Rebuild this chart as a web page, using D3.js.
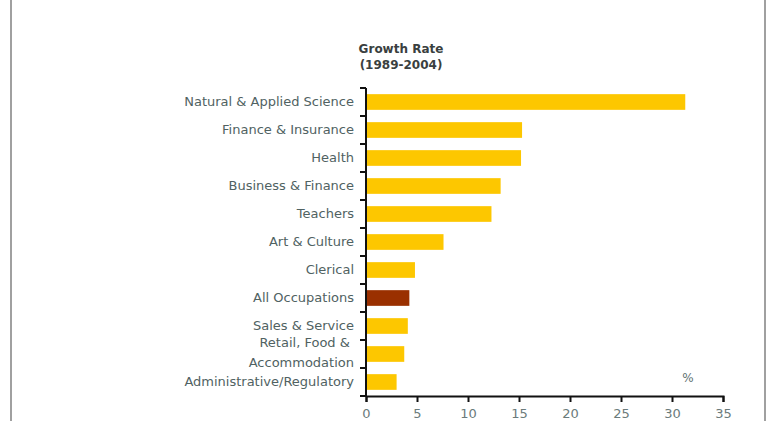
<!DOCTYPE html>
<html><head><meta charset="utf-8">
<script src="https://cdn.jsdelivr.net/npm/d3@7"></script>
<style>
html,body{margin:0;padding:0;background:#fff;}
svg{display:block;}
</style></head>
<body>
<svg id="chart" width="768" height="421"></svg>
<script>
const categories = ["Natural & Applied Science","Finance & Insurance","Health","Business & Finance","Teachers","Art & Culture","Clerical","All Occupations","Sales & Service","Retail, Food & Accommodation","Administrative/Regulatory"];
const values = [31.3, 15.3, 15.2, 13.2, 12.3, 7.6, 4.8, 4.25, 4.1, 3.75, 3.0];
const highlight = "All Occupations";
const xTicks = [0,5,10,15,20,25,30,35];
const titleLines = ["Growth Rate","(1989-2004)"];
const unitLabel = "%";

const svg = d3.select("#chart");
const M = {left:366, right:723, top:88, bottom:396};

// frame
svg.append("line").attr("x1",11).attr("x2",11).attr("y1",0).attr("y2",421).attr("stroke","#a0a0a0").attr("stroke-width",2);
svg.append("line").attr("x1",765).attr("x2",765).attr("y1",0).attr("y2",421).attr("stroke","#a0a0a0").attr("stroke-width",2);

const x = d3.scaleLinear().domain([0,35]).range([M.left,M.right]);
const y = d3.scaleBand().domain(categories).range([M.top,M.bottom]).paddingInner(0.44).paddingOuter(0.22);

// title
svg.append("g").selectAll("text").data(titleLines).join("text")
  .attr("x",401).attr("y",(d,i)=>53+i*16).attr("text-anchor","middle")
  .attr("font-family","DejaVu Sans, Verdana, sans-serif").attr("font-weight","bold")
  .attr("font-size",12).attr("fill","#3a3f40").text(d=>d);

// bars
svg.append("g").selectAll("rect").data(categories).join("rect")
  .attr("x",x(0)).attr("y",d=>y(d)).attr("height",y.bandwidth())
  .attr("width",(d,i)=>x(values[i])-x(0))
  .attr("fill",d=>d===highlight?"#9a3000":"#fdc700");

// y axis
const yAxis = svg.append("g").attr("transform",`translate(${M.left},0)`)
  .call(d3.axisLeft(y).tickSize(0).tickPadding(12));
yAxis.select(".domain").remove();
yAxis.selectAll("text").attr("font-family","DejaVu Sans, Verdana, sans-serif").attr("font-size",13).attr("fill","#506262")
  .each(function(d){
    if(d.indexOf("Retail")===0){
      const t=d3.select(this); t.text(null).attr("dy",null);
      t.append("tspan").attr("x",-12).attr("y",-7).text("Retail, Food & ");
      t.append("tspan").attr("x",-12).attr("y",13).text("Accommodation");
    }
  });
svg.append("line").attr("x1",M.left).attr("x2",M.left).attr("y1",M.top).attr("y2",M.bottom).attr("stroke","#111").attr("stroke-width",2);
svg.append("g").selectAll("line").data(d3.range(categories.length+1)).join("line")
  .attr("x1",M.left-6).attr("x2",M.left)
  .attr("y1",i=>y.range()[0]+ (y.range()[1]-y.range()[0])*i/categories.length)
  .attr("y2",i=>y.range()[0]+ (y.range()[1]-y.range()[0])*i/categories.length)
  .attr("stroke","#111").attr("stroke-width",2);

// x axis
const xAxis = svg.append("g").attr("transform",`translate(0,${M.bottom})`)
  .call(d3.axisBottom(x).tickValues(xTicks).tickSize(6).tickSizeOuter(6).tickPadding(7));
xAxis.select(".domain").attr("stroke","#111").attr("stroke-width",2);
xAxis.selectAll(".tick line").attr("stroke","#111").attr("stroke-width",2);
xAxis.selectAll("text").attr("font-family","DejaVu Sans, Verdana, sans-serif").attr("font-size",13).attr("fill","#6b7b7b");

svg.append("text").attr("x",688).attr("y",382).attr("text-anchor","middle")
  .attr("font-family","DejaVu Sans, Verdana, sans-serif").attr("font-size",12).attr("fill","#5f7272").text(unitLabel);
</script>
</body></html>
